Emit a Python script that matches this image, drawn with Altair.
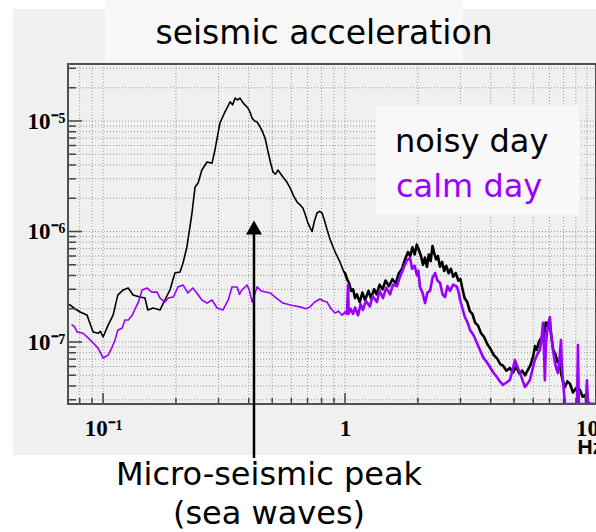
import altair as alt
import pandas as pd

# ---- data (frequency in Hz, acceleration in units of 1e-7) ----
noisy_f = [0.0716, 0.0731, 0.0765, 0.0803, 0.0835, 0.0859, 0.0885, 0.0910, 0.0953, 0.0975,
           0.100, 0.105, 0.110, 0.115, 0.121, 0.127, 0.133, 0.142, 0.149, 0.153,
           0.161, 0.172, 0.180, 0.189, 0.198, 0.208, 0.214, 0.222, 0.233, 0.240,
           0.247, 0.256, 0.269, 0.282, 0.290, 0.304, 0.319, 0.335, 0.343, 0.351,
           0.360, 0.368, 0.379, 0.388, 0.397, 0.405, 0.413, 0.423, 0.433, 0.446,
           0.456, 0.467, 0.481, 0.492, 0.504, 0.516, 0.528, 0.554, 0.575, 0.593,
           0.613, 0.633, 0.650, 0.670, 0.690, 0.703, 0.718, 0.731, 0.748, 0.766,
           0.785, 0.804, 0.823, 0.843, 0.867, 0.892, 0.920, 0.953, 0.985,
           1.00, 1.02, 1.04, 1.06, 1.08, 1.10, 1.12, 1.15, 1.18, 1.21,
           1.25, 1.28, 1.32, 1.35, 1.39, 1.43, 1.47, 1.52, 1.57, 1.62,
           1.67, 1.72, 1.77, 1.82, 1.86, 1.90, 1.94, 1.98, 2.02, 2.06,
           2.10, 2.14, 2.18, 2.22, 2.26, 2.30, 2.34, 2.38, 2.42, 2.47,
           2.52, 2.57, 2.62, 2.68, 2.74, 2.80, 2.87, 2.94, 3.00, 3.06,
           3.12, 3.20, 3.28, 3.36, 3.45, 3.55, 3.65, 3.75, 3.87, 4.00,
           4.12, 4.25, 4.38, 4.50, 4.65, 4.80, 4.95, 5.10, 5.25, 5.40,
           5.55, 5.70, 5.85, 6.00, 6.10, 6.20, 6.35, 6.50, 6.60, 6.75,
           6.85, 7.00, 7.10, 7.25, 7.40, 7.55, 7.70, 7.85, 8.0, 8.1,
           8.3, 8.5, 8.75, 9.0, 9.35, 9.6, 9.82, 10.0, 10.3, 10.9]
noisy_v = [2.2, 2.16, 2.0, 1.87, 1.80, 1.75, 1.45, 1.23, 1.20, 1.25,
           1.11, 1.43, 1.75, 2.66, 2.96, 3.08, 2.66, 2.55, 2.50, 1.95,
           2.03, 1.95, 2.40, 2.96, 4.21, 4.30, 5.19, 7.24, 14.7, 25.3,
           27.5, 36.0, 42.6, 41.6, 54.7, 95.9, 121, 149, 140, 161,
           155, 161, 146, 138, 131, 120, 106, 100, 97.9, 88.2,
           80.0, 70.2, 52.4, 42.0, 34.5, 33.0, 36.0, 31.1, 28.0, 24.8,
           21.0, 18.5, 17.5, 16.3, 13.5, 11.9, 10.8, 10.0, 12.5, 14.7,
           15.2, 14.7, 12.5, 10.4, 8.5, 7.24, 6.2, 5.3, 4.4,
           4.2, 3.7, 3.4, 2.9, 3.0, 2.5, 2.7, 2.3, 2.8, 2.4,
           2.9, 2.5, 3.0, 2.7, 3.3, 3.0, 3.6, 3.2, 3.7, 3.4,
           4.2, 4.6, 5.6, 6.5, 6.0, 7.2, 6.2, 7.6, 6.8, 6.0,
           5.0, 5.8, 4.8, 6.2, 5.4, 7.4, 6.3, 5.6, 6.0, 4.8,
           5.3, 4.4, 4.9, 4.2, 4.6, 3.9, 4.2, 3.6, 3.7, 3.0,
           2.5, 2.3, 1.9, 1.8, 1.5, 1.4, 1.2, 1.12, 0.96, 0.86,
           0.76, 0.71, 0.63, 0.61, 0.55, 0.58, 0.53, 0.60, 0.52, 0.55,
           0.50, 0.56, 0.62, 0.75, 0.92, 0.85, 1.02, 1.10, 1.0, 1.5,
           1.4, 1.58, 1.2, 0.85, 0.78, 0.66, 0.65, 0.50, 0.42, 0.39,
           0.44, 0.42, 0.35, 0.38, 0.37, 0.32, 0.33, 0.29, 0.275, 0.275]

calm_f = [0.0744, 0.0762, 0.0781, 0.0826, 0.0867, 0.0910, 0.0953, 0.0975, 0.100, 0.105,
          0.109, 0.112, 0.115, 0.120, 0.123, 0.127, 0.132, 0.136, 0.140, 0.145,
          0.152, 0.159, 0.167, 0.172, 0.180, 0.186, 0.195, 0.204, 0.214, 0.224,
          0.235, 0.244, 0.256, 0.269, 0.282, 0.296, 0.313, 0.329, 0.341, 0.358,
          0.366, 0.375, 0.394, 0.403, 0.413, 0.433, 0.45, 0.49, 0.52, 0.554,
          0.60, 0.652, 0.690, 0.716, 0.75, 0.788, 0.815, 0.843, 0.875, 0.909,
          0.94, 0.972, 1.000, 1.019, 1.029, 1.035, 1.055, 1.079, 1.10, 1.132,
          1.16, 1.186, 1.22, 1.267, 1.30, 1.355, 1.39, 1.435, 1.48, 1.534,
          1.58, 1.640, 1.68, 1.720, 1.76, 1.804, 1.857, 1.893, 1.94, 1.984,
          2.01, 2.041, 2.09, 2.142, 2.19, 2.245, 2.30, 2.356, 2.41, 2.471,
          2.53, 2.59, 2.65, 2.715, 2.80, 2.904, 2.95, 2.99, 3.06, 3.13,
          3.21, 3.29, 3.40, 3.51, 3.61, 3.72, 3.85, 3.97, 4.10, 4.25,
          4.37, 4.49, 4.65, 4.80, 4.92, 5.04, 5.15, 5.29, 5.42, 5.54,
          5.68, 5.81, 5.95, 6.09, 6.25, 6.39, 6.50, 6.58, 6.64, 6.70,
          6.76, 6.83, 6.93, 7.03, 7.10, 7.17, 7.28, 7.38, 7.50, 7.59,
          7.70, 7.81, 7.88, 7.96, 8.05, 8.11, 9.10, 9.18, 9.26, 9.9,
          10.0, 10.1, 10.9]
calm_v = [1.43, 1.38, 1.23, 1.20, 1.09, 0.98, 0.88, 0.80, 0.716, 0.763,
          0.90, 1.04, 1.28, 1.34, 1.58, 1.58, 1.75, 2.03, 2.30, 2.96,
          3.08, 2.83, 2.83, 2.50, 2.30, 2.50, 2.55, 3.15, 3.28, 2.78,
          3.08, 2.78, 2.40, 2.25, 2.40, 2.03, 1.95, 2.40, 3.15, 3.15,
          2.7, 2.96, 3.28, 2.9, 2.30, 3.15, 2.9, 2.78, 2.5, 2.25,
          2.15, 2.08, 2.0, 2.08, 2.3, 2.45, 2.35, 2.3, 2.0, 1.83,
          1.9, 1.75, 1.85, 1.8, 3.28, 1.8, 2.0, 1.8, 2.05, 1.75,
          2.2, 1.95, 2.35, 2.1, 2.6, 2.3, 2.9, 2.5, 3.1, 2.7,
          3.3, 3.2, 3.8, 4.3, 4.9, 5.5, 5.76, 4.6, 4.9, 4.0,
          4.4, 3.15, 2.8, 2.25, 2.8, 2.9, 3.8, 4.21, 3.6, 3.42,
          2.7, 2.55, 3.2, 2.9, 3.3, 3.15, 2.8, 2.4, 2.0, 1.68,
          1.5, 1.28, 1.15, 0.98, 0.85, 0.73, 0.66, 0.594, 0.53, 0.48,
          0.44, 0.41, 0.43, 0.453, 0.55, 0.687, 0.60, 0.524, 0.45, 0.392,
          0.42, 0.453, 0.56, 0.687, 0.78, 0.846, 1.1, 1.49, 0.9, 0.45,
          0.9, 1.2, 1.45, 1.68, 1.2, 1.0, 0.78, 0.646, 0.56, 0.524,
          0.7, 1.04, 0.6, 0.45, 0.33, 0.275, 0.275, 0.94, 0.275, 0.275,
          0.45, 0.275, 0.275]

x_grid = [0.08, 0.09, 0.1, 0.2, 0.3, 0.4, 0.5, 0.6, 0.7, 0.8, 0.9,
          1, 2, 3, 4, 5, 6, 7, 8, 9, 10]
x_major = [0.1, 1, 10]
y_grid = [0.3, 0.4, 0.5, 0.6, 0.7, 0.8, 0.9, 1, 2, 3, 4, 5, 6, 7, 8, 9,
          10, 20, 30, 40, 50, 60, 70, 80, 90, 100, 200, 300]
y_major = [1, 10, 100]

PURPLE = "#9a00ff"
W, H = 528, 340

xscale = alt.Scale(type="log", domain=[0.0716, 10.9], nice=False)
yscale = alt.Scale(type="log", domain=[0.2748, 328], nice=False)

x_labels = "datum.value < 0.5 ? '10⁻¹' : (datum.value < 5 ? '1' : '10')"
y_labels = "datum.value < 5 ? '10⁻⁷' : (datum.value < 50 ? '10⁻⁶' : '10⁻⁵')"

xaxis = alt.Axis(
    values=x_major, labelExpr=x_labels, ticks=False, tickSize=0, domain=False, grid=False,
    labelFont="Liberation Serif", labelFontWeight="bold", labelFontSize=23,
    labelColor="black", labelPadding=13, labelFlush=False, labelOverlap=False,
    title="Hz", titleX=509, titleY=43, titleAlign="left", titleBaseline="middle",
    titleFont="Liberation Sans", titleFontWeight="bold", titleFontSize=21,
    titleColor="black", zindex=2)
yaxis = alt.Axis(
    values=y_major, labelExpr=y_labels, ticks=False, tickSize=0, domain=False, grid=False,
    labelFont="Liberation Serif", labelFontWeight="bold", labelFontSize=23,
    labelColor="black", labelPadding=3, labelFlush=False, labelOverlap=False,
    title=None, zindex=2)

noisy = pd.DataFrame({"f": noisy_f, "v": noisy_v, "s": "noisy day", "i": range(len(noisy_f))})
calm = pd.DataFrame({"f": calm_f, "v": calm_v, "s": "calm day", "i": range(len(calm_f))})
series = pd.concat([noisy, calm])
# the spectra get visibly noisier (thicker traces) above 1 Hz
series["w"] = [1.6 if f < 1 else 2.6 for f in series["f"]]

xg = pd.DataFrame({"f": x_grid})
xm = pd.DataFrame({"f": x_major})
xn = pd.DataFrame({"f": [v for v in x_grid if v not in x_major]})
yg = pd.DataFrame({"v": y_grid})
ym = pd.DataFrame({"v": y_major})
yn = pd.DataFrame({"v": [v for v in y_grid if v not in y_major]})
one = pd.DataFrame({"a": [0]})

def X():
    return alt.X("f:Q", scale=xscale, axis=xaxis)

def Y():
    return alt.Y("v:Q", scale=yscale, axis=yaxis)

def vrect(x, x2, y, y2, color):
    return alt.Chart(one).mark_rect(color=color).encode(
        x=alt.value(x), x2=alt.value(x2), y=alt.value(y), y2=alt.value(y2))

panel = vrect(-55, W, -55, 391, "#f0f0f0")
titlebox = vrect(37, 395, -64, -2, "#f8f8f8")
legbox = vrect(308, 511, 42, 151, "#f8f8f8")

grid_x = alt.Chart(xg).mark_rule(color="#9a9a9a", strokeDash=[1, 2], strokeWidth=1).encode(
    x=X(), y=alt.value(0), y2=alt.value(H))
grid_y = alt.Chart(yg).mark_rule(color="#9a9a9a", strokeDash=[1, 2], strokeWidth=1).encode(
    y=Y(), x=alt.value(0), x2=alt.value(W))

def trace(df, color):
    return alt.Chart(df).mark_trail(clip=True, color=color).encode(
        x=X(), y=Y(), order="i:Q", size=alt.Size("w:Q", scale=None, legend=None))

t_noisy = trace(series[series["s"] == "noisy day"], "black")
t_calm = trace(series[series["s"] == "calm day"], PURPLE)

tick_style = dict(color="#444", strokeWidth=1.5)
tx_major = alt.Chart(xm).mark_rule(**tick_style).encode(
    x=X(), y=alt.value(H), y2=alt.value(H - 11))
tx_minor = alt.Chart(xn).mark_rule(**tick_style).encode(
    x=X(), y=alt.value(H), y2=alt.value(H - 6))
ty_major = alt.Chart(ym).mark_rule(**tick_style).encode(
    y=Y(), x=alt.value(0), x2=alt.value(14))
ty_minor = alt.Chart(yn).mark_rule(**tick_style).encode(
    y=Y(), x=alt.value(0), x2=alt.value(8))

frame = alt.Chart(one).mark_rect(filled=False, stroke="#505050", strokeWidth=2).encode(
    x=alt.value(0), x2=alt.value(W), y=alt.value(0), y2=alt.value(H))

arrow_line = alt.Chart(one).mark_rule(color="black", strokeWidth=2.5).encode(
    x=alt.value(186), y=alt.value(170), y2=alt.value(394))
arrow_head = alt.Chart(one).mark_point(shape="triangle-up", size=256, filled=True,
                                       color="black", opacity=1).encode(
    x=alt.value(186), y=alt.value(163.5))

def txt(s, x, y, size, color="black", align="center"):
    return alt.Chart(one).mark_text(text=s, font="DejaVu Sans", fontSize=size, color=color,
                                    align=align, baseline="alphabetic").encode(
        x=alt.value(x), y=alt.value(y))

title = txt("seismic acceleration", 256, -20, 33)
leg1 = txt("noisy day", 327, 88, 32, align="left")
leg2 = txt("calm day", 328, 133, 32, color=PURPLE, align="left")
bot1 = txt("Micro-seismic peak", 201, 421, 32)
bot2 = txt("(sea waves)", 201, 460, 32)

chart = alt.layer(
    panel, titlebox, grid_x, grid_y, legbox, t_noisy, t_calm,
    tx_major, tx_minor, ty_major, ty_minor, frame,
    arrow_line, arrow_head, title, leg1, leg2, bot1, bot2,
).properties(
    width=W, height=H,
    autosize=alt.AutoSizeParams(type="none"),
    padding={"left": 68, "top": 64, "right": 0, "bottom": 128},
    background="white",
).configure_view(stroke=None)

chart.save("out.html", embed_options={"renderer": "svg", "actions": False})
